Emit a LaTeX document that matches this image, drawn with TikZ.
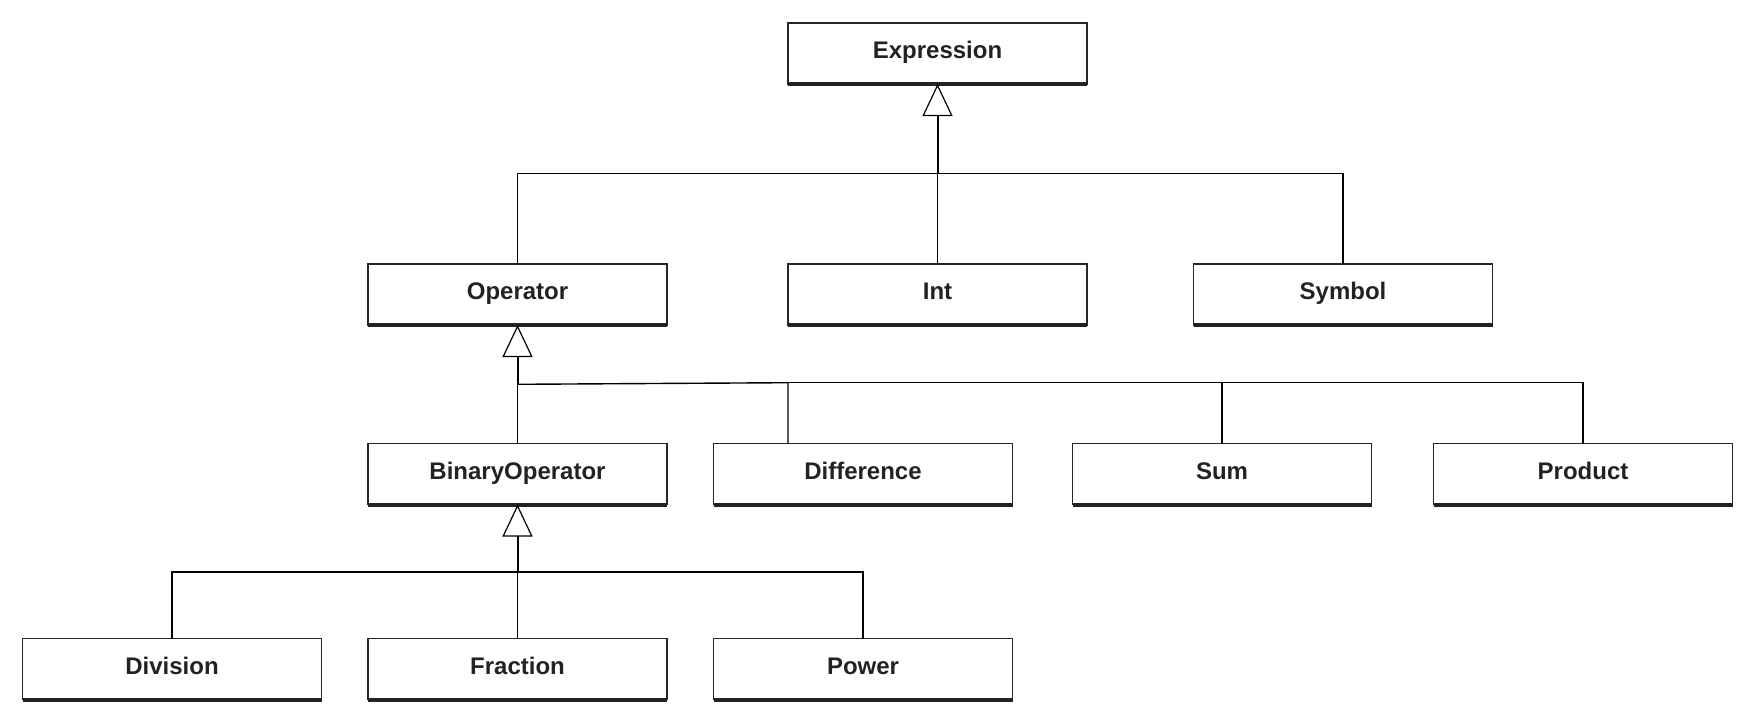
\documentclass[tikz,border=0pt]{standalone}
\usepackage{fontspec}
\setmainfont{Liberation Sans}
\usetikzlibrary{arrows.meta}
\definecolor{ink}{HTML}{222222}
\tikzset{
  cls/.style={draw=black!85, line width=1.3pt, fill=white, rectangle, inner sep=0pt, outer sep=0pt,
    minimum width=299pt, minimum height=61pt, text=ink, text height=17pt, text depth=7pt,
    font=\fontsize{24pt}{28pt}\selectfont\bfseries},
  conn/.style={line width=1.4pt, draw=black},
  gen/.style={line width=2pt, draw=black, -{Triangle[open, length=32pt, width=30pt, line width=1.2pt]}},
  bar/.style={line width=4pt, draw=ink}
}
\begin{document}
\begin{tikzpicture}[x=1pt, y=-1pt]
\useasboundingbox (0,0) rectangle (1755,723);
% nodes
\node[cls] (expr) at (937.5,53.5) {Expression};
\node[cls] (op) at (517.5,294.5) {Operator};
\node[cls] (int) at (937.5,294.5) {Int};
\node[cls] (sym) at (1343,294.5) {Symbol};
\node[cls] (binop) at (517.5,474) {BinaryOperator};
\node[cls] (diff) at (863,474) {Difference};
\node[cls] (sum) at (1222,474) {Sum};
\node[cls] (prod) at (1583,474) {Product};
\node[cls] (div) at (172,669) {Division};
\node[cls] (frac) at (517.5,669) {Fraction};
\node[cls] (pow) at (863,669) {Power};
% thick bottom edges
\foreach \n in {expr,op,int,sym,binop,diff,sum,prod,div,frac,pow}
  \draw[bar] (\n.south west) -- (\n.south east);
% level 1
\coordinate (b1) at (937.5,173.5);
\draw[conn] (op.north) |- (b1);
\draw[conn] (sym.north) |- (b1);
\draw[conn] (int.north) -- (b1);
\draw[gen] (b1) -- (expr.south);
% level 2
\coordinate (b2) at (517.5,384.3);
\coordinate (d2) at (788,382.7);
\draw[conn] (binop.north) -- (b2);
\draw[conn] (b2) -- (d2) -- (d2 |- diff.north);
\draw[conn] (d2) -| (sum.north);
\draw[conn] (d2) -| (prod.north);
\draw[gen] (b2) -- (op.south);
% level 3
\coordinate (b3) at (517.5,572);
\draw[conn] (div.north) |- (b3);
\draw[conn] (pow.north) |- (b3);
\draw[conn] (frac.north) -- (b3);
\draw[gen] (b3) -- (binop.south);
\end{tikzpicture}
\end{document}
